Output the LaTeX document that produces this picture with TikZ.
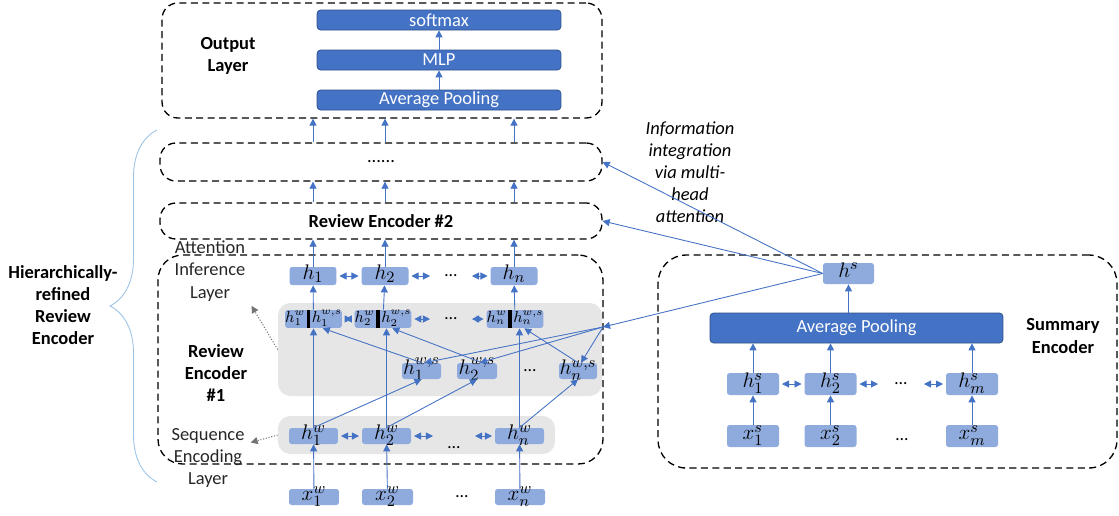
\documentclass[tikz,border=0pt]{standalone}
\usepackage{fontspec}
\setmainfont{Carlito}
\usetikzlibrary{arrows.meta,decorations.pathreplacing}

\definecolor{dblue}{HTML}{4472C4}
\definecolor{lblue}{HTML}{8FAADC}
\definecolor{bandgray}{HTML}{E7E6E6}
\definecolor{bracecol}{HTML}{9DC3E6}

\newcommand{\txtsize}{\fontsize{10.5}{12.6}\selectfont}
\newcommand{\vecsize}{\fontsize{13}{15}\selectfont}
\newcommand{\catbar}{\hspace{1pt}\vrule width 1.8pt height 6.9pt depth 3.3pt\hspace{1pt}}

\tikzset{
    layer/.style={draw, line width=0.75pt, dash pattern=on 4pt off 2.5pt, rounded corners=9pt, inner sep=0pt, font=\txtsize},
    band/.style={fill=bandgray, rounded corners=7pt, inner sep=0pt},
    outbox/.style={fill=dblue, draw=dblue!70!black, text=white, rounded corners=2pt, inner sep=0pt, font=\txtsize},
    vec/.style={fill=lblue, rounded corners=1.5pt, inner sep=0pt, font=\vecsize, text height=1.2ex, text depth=0.3ex},
    cat/.style={fill=lblue, rounded corners=1.5pt, inner sep=0pt, font=\small, text height=6.9pt, text depth=3.3pt, minimum width=0.98cm},
    arr/.style={dblue, line width=0.5pt, -{Triangle[length=4pt, width=4pt]}},
    dbl/.style={dblue, line width=0.5pt, {Triangle[length=4pt, width=4pt]}-{Triangle[length=4pt, width=4pt]}, shorten <=1.5pt, shorten >=1.5pt},
    note/.style={black!55, densely dotted, line width=0.6pt, -{Triangle[length=4pt, width=4pt]}},
    label/.style={align=center, font=\txtsize}
}

\begin{document}
\begin{tikzpicture}[x=0.02cm, y=-0.02cm]

    \useasboundingbox (0,0) rectangle (1119,515);

    % Gray bands
    \node[band, minimum width=6.48cm, minimum height=1.86cm] (attband) at (440,349.5) {};
    \node[band, minimum width=5.54cm, minimum height=0.76cm] (seqband) at (416.5,435) {};

    % Layer boxes
    \node[layer, minimum width=8.8cm, minimum height=2.3cm] (outlay) at (382,60.5) {};
    \node[layer, minimum width=8.84cm, minimum height=0.76cm] (dotslay) at (381,162) {......};
    \node[layer, minimum width=8.84cm, minimum height=0.72cm, font=\txtsize\bfseries] (re2) at (381,221) {Review Encoder \#2};
    \node[layer, rounded corners=14pt, minimum width=8.9cm, minimum height=4.18cm] (re1) at (380.5,359.5) {};
    \node[layer, rounded corners=16pt, minimum width=9.18cm, minimum height=4.26cm] (sumlay) at (887.5,361.5) {};

    % Output layer
    \node[outbox, minimum width=4.88cm, minimum height=0.4cm] (softmax) at (439,20) {softmax};
    \node[outbox, minimum width=4.88cm, minimum height=0.4cm] (mlp) at (439,60) {MLP};
    \node[outbox, minimum width=4.88cm, minimum height=0.4cm] (avgpool) at (439,100) {Average Pooling};
    \node[label, font=\txtsize\bfseries] (outtext) at (228,56) {Output\\Layer};
    \draw[arr] (avgpool) -- (mlp);
    \draw[arr] (mlp) -- (softmax);

    % Attention inference layer
    \node[vec, minimum width=0.94cm, minimum height=0.36cm] (h1) at (313,276) {$h_1$};
    \node[vec, minimum width=0.94cm, minimum height=0.36cm] (h2) at (385,276) {$h_2$};
    \node[minimum width=0.72cm, inner sep=0pt] (hdots) at (451,276) {…};
    \node[vec, minimum width=0.94cm, minimum height=0.36cm] (hn) at (514,276) {$h_n$};

    % Concatenated states
    \node[cat] (c1) at (313.5,319) {$h_1^w$\catbar$h_1^{w,s}$};
    \node[cat] (c2) at (383,319) {$h_2^w$\catbar$h_2^{w,s}$};
    \node[minimum width=0.72cm, inner sep=0pt] (cdots) at (451,319) {…};
    \node[cat] (cn) at (515,319) {$h_n^w$\catbar$h_n^{w,s}$};

    % Summary-aware states
    \node[vec, minimum width=0.78cm, minimum height=0.32cm] (w1) at (421.5,371) {$h_1^{w,s}$};
    \node[vec, minimum width=0.8cm, minimum height=0.32cm] (w2) at (477,371) {$h_2^{w,s}$};
    \node[inner sep=0pt] (wdots) at (530,371) {…};
    \node[vec, minimum width=0.76cm, minimum height=0.32cm] (wn) at (578,371) {$h_n^{w,s}$};

    % Sequence encoding layer
    \node[vec, minimum width=0.98cm, minimum height=0.32cm] (s1) at (313.5,436) {$h_1^w$};
    \node[vec, minimum width=0.98cm, minimum height=0.32cm] (s2) at (386.5,436) {$h_2^w$};
    \node[minimum width=0.72cm, inner sep=0pt] (sdots) at (454,448) {…};
    \node[vec, minimum width=0.98cm, minimum height=0.32cm] (sn) at (519.5,436) {$h_n^w$};

    % Review words
    \node[vec, minimum width=1.0cm, minimum height=0.32cm] (x1) at (314,497) {$x_1^w$};
    \node[vec, minimum width=1.02cm, minimum height=0.32cm] (x2) at (387.5,497) {$x_2^w$};
    \node[inner sep=0pt] (xdots) at (462,497) {…};
    \node[vec, minimum width=1.0cm, minimum height=0.32cm] (xn) at (520,497) {$x_n^w$};

    % Labels
    \node[label, font=\txtsize\bfseries] (re1text) at (216,373) {Review\\Encoder\\\#1};
    \node[label, text=black!85] (atttext) at (210,271) {Attention\\Inference\\Layer};
    \node[label, text=black!85] (seqtext) at (208,458) {Sequence\\Encoding\\Layer};
    \node[label, font=\txtsize\bfseries] (hiertext) at (63,305) {Hierarchically-\\refined\\Review\\Encoder};
    \node[label, font=\txtsize\itshape] (infotext) at (690,172) {Information\\integration\\via multi-\\head\\attention};
    \node[label, font=\txtsize\bfseries] (sumtext) at (1063,336) {Summary\\Encoder};
    \draw[note] (attband.west) -- (atttext.-40);
    \draw[note] (seqband.west) -- (seqtext.20);
    \draw[bracecol, line width=0.5pt, decorate, decoration={brace, amplitude=0.94cm}] (157,482) -- (157,130);

    % Summary encoder
    \node[vec, minimum width=1.02cm, minimum height=0.42cm] (hs) at (848.5,273.5) {$h^s$};
    \node[outbox, minimum width=5.86cm, minimum height=0.6cm] (sumavg) at (856.5,328) {Average Pooling};
    \node[vec, minimum width=1.04cm, minimum height=0.44cm] (hs1) at (753,384) {$h_1^s$};
    \node[vec, minimum width=1.04cm, minimum height=0.44cm] (hs2) at (830.5,384) {$h_2^s$};
    \node[minimum width=0.8cm, inner sep=0pt] (hsdots) at (901,384) {…};
    \node[vec, minimum width=1.04cm, minimum height=0.44cm] (hsm) at (972,384) {$h_m^s$};
    \node[vec, minimum width=1.04cm, minimum height=0.44cm] (xs1) at (753,436) {$x_1^s$};
    \node[vec, minimum width=1.04cm, minimum height=0.44cm] (xs2) at (830.5,436) {$x_2^s$};
    \node[inner sep=0pt] (xsdots) at (902,440) {…};
    \node[vec, minimum width=1.04cm, minimum height=0.44cm] (xsm) at (972,436) {$x_m^s$};

    \draw[arr] (xs1) -- (hs1);
    \draw[arr] (xs2) -- (hs2);
    \draw[arr] (xsm) -- (hsm);
    \draw[arr] (hs1.north) -- (hs1.north |- sumavg.south);
    \draw[arr] (hs2.north) -- (hs2.north |- sumavg.south);
    \draw[arr] (hsm.north) -- (hsm.north |- sumavg.south);
    \draw[arr] (hs.south |- sumavg.north) -- (hs.south);
    \draw[dbl] (hs1) -- (hs2);
    \draw[dbl] (hs2) -- (hsdots);
    \draw[dbl] (hsdots) -- (hsm);

    % Review encoder #1 connections
    \draw[arr] (x1) -- (s1);
    \draw[arr] (x2) -- (s2);
    \draw[arr] (xn) -- (sn);
    \draw[dbl] (s1) -- (s2);
    \draw[dbl] (s2.east) -- (s2.east -| sdots.west);
    \draw[dbl] (sdots.east |- sn.west) -- (sn.west);
    \draw[arr] (s1.north) -- (s1.north |- c1.south);
    \draw[arr] (s2.north) -- (s2.north |- c2.south);
    \draw[arr] (sn.north) -- (sn.north |- cn.south);
    \draw[arr] (s1.north) -- (w1.south);
    \draw[arr] (s2.north) -- (w2.south);
    \draw[arr] (sn.north) -- (wn.south);
    \draw[arr] (w1.north) -- (c1.-45);
    \draw[arr] (w2.60) -- (c2.-45);
    \draw[arr] (wn.north) -- (cn.-45);
    \draw[dbl] (c1) -- (c2);
    \draw[dbl] (c2) -- (cdots);
    \draw[dbl] (cdots) -- (cn);
    \draw[arr] (c1) -- (h1);
    \draw[arr] (c2) -- (h2);
    \draw[arr] (cn) -- (hn);
    \draw[dbl] (h1) -- (h2);
    \draw[dbl] (h2) -- (hdots);
    \draw[dbl] (hdots) -- (hn);

    % Multi-head attention from summary
    \coordinate (hub) at (603,327);
    \draw[arr] (hs.west) -- (dotslay.east);
    \draw[arr] (hs.west) -- (re2.east);
    \draw[arr] (hs.west) -- (hub);
    \draw[arr] (hub) -- (w1.70);
    \draw[arr] (hub) -- (w2.70);
    \draw[arr] (hub) -- (wn.70);

    % Upper layers
    \draw[arr] (h1.north) -- (h1.north |- re2.south);
    \draw[arr] (h2.north) -- (h2.north |- re2.south);
    \draw[arr] (hn.north) -- (hn.north |- re2.south);
    \draw[arr] (re2.north -| h1) -- (dotslay.south -| h1);
    \draw[arr] (re2.north -| h2) -- (dotslay.south -| h2);
    \draw[arr] (re2.north -| hn) -- (dotslay.south -| hn);
    \draw[arr] (dotslay.north -| h1) -- (outlay.south -| h1);
    \draw[arr] (dotslay.north -| h2) -- (outlay.south -| h2);
    \draw[arr] (dotslay.north -| hn) -- (outlay.south -| hn);

\end{tikzpicture}
\end{document}
